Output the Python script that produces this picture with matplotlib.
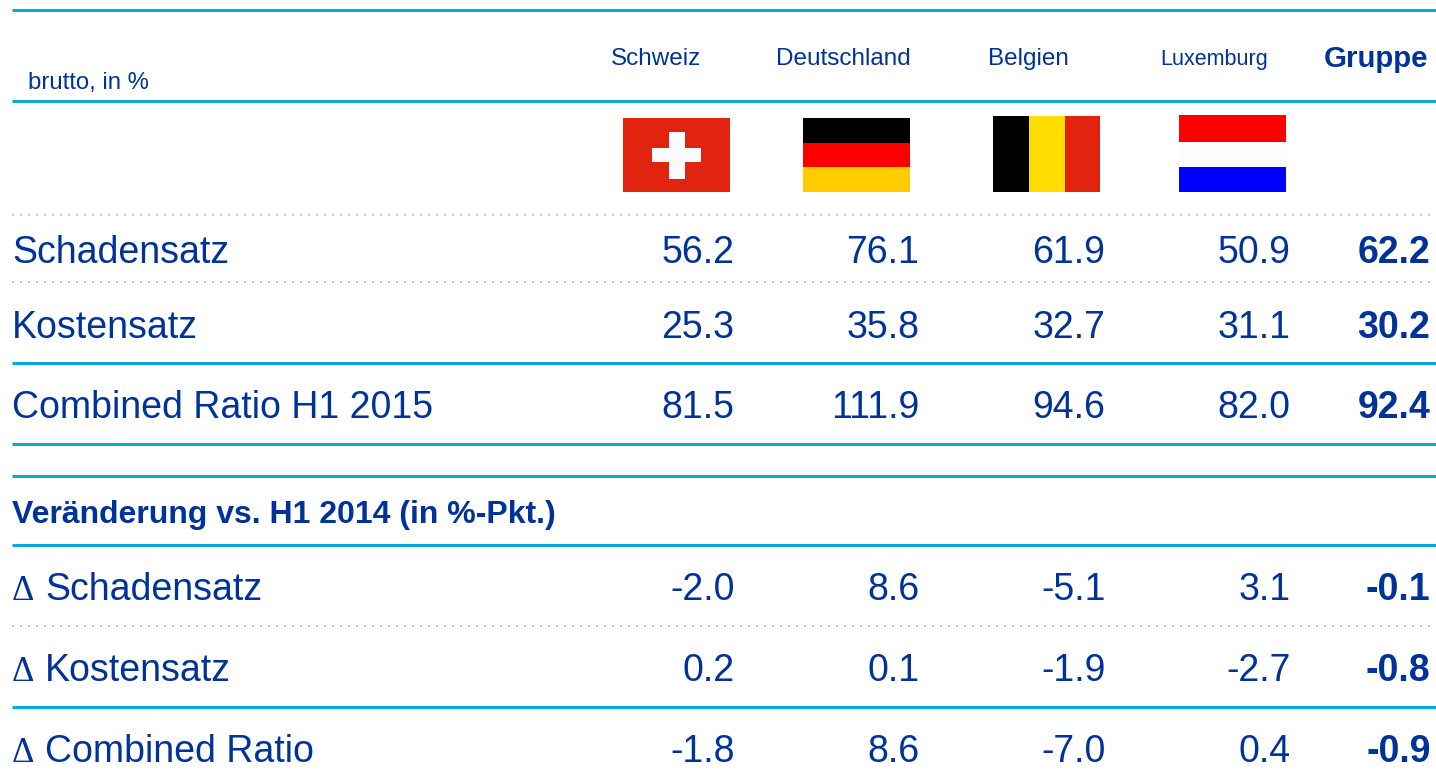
import matplotlib
matplotlib.use("Agg")
from matplotlib import pyplot as plt
from matplotlib.patches import Rectangle

plt.rcParams['font.family'] = ['Liberation Sans', 'DejaVu Sans']

countries = ["Schweiz", "Deutschland", "Belgien", "Luxemburg", "Gruppe"]
unit_label = "brutto, in %"
section_label = "Veränderung vs. H1 2014 (in %-Pkt.)"

row_labels = ["Schadensatz", "Kostensatz", "Combined Ratio H1 2015"]
schadensatz = [56.2, 76.1, 61.9, 50.9, 62.2]
kostensatz = [25.3, 35.8, 32.7, 31.1, 30.2]
combined = [81.5, 111.9, 94.6, 82.0, 92.4]

delta_labels = ["Schadensatz", "Kostensatz", "Combined Ratio"]
d_schadensatz = [-2.0, 8.6, -5.1, 3.1, -0.1]
d_kostensatz = [0.2, 0.1, -1.9, -2.7, -0.8]
d_combined = [-1.8, 8.6, -7.0, 0.4, -0.9]

BLUE = "#003399"
CYAN = "#00a8d6"
GREY = "#c4c4c4"

fig = plt.figure(figsize=(14.36, 7.84), dpi=100)
ax = fig.add_axes([0, 0, 1, 1])
ax.set_xlim(0, 1436)
ax.set_ylim(784, 0)
ax.axis("off")

# rules
for y in [10, 101, 363, 444, 476, 545, 707]:
    ax.plot([12, 1436], [y, y], color=CYAN, lw=2.1, solid_capstyle="butt")
for y in [215, 282, 626]:
    ax.plot([12, 1436], [y, y], color=GREY, lw=1.44, linestyle=(0, (1, 3)))

# header
header_x = [656.5, 843, 1028, 1214, 1376]
header_y = [65, 65, 65, 65, 67]
header_size = [17.5, 17.5, 17.5, 15.5, 21.2]
for i in range(5):
    ax.text(header_x[i], header_y[i], countries[i], color=BLUE, ha="center", va="baseline",
            fontsize=header_size[i], fontweight="bold" if i == 4 else "normal")
ax.text(28, 89, unit_label, color=BLUE, fontsize=17.2, va="baseline")

# flags
def box(x0, y0, x1, y1, color):
    ax.add_patch(Rectangle((x0, y0), x1 - x0, y1 - y0, facecolor=color, edgecolor="none"))

box(623, 118, 730, 192, "#e1230f")
box(652, 148, 701, 162, "#fbfbfb")
box(669, 132, 685, 179, "#fbfbfb")

box(803, 118, 910, 143, "#000000")
box(803, 143, 910, 167, "#fb0000")
box(803, 167, 910, 192, "#ffcc00")

box(993, 116, 1029, 192, "#000000")
box(1029, 116, 1065, 192, "#ffdd00")
box(1065, 116, 1100, 192, "#e1230f")

box(1179, 115, 1286, 142, "#ff0000")
box(1179, 142, 1286, 167, "#fcfcfc")
box(1179, 167, 1286, 192, "#0000ff")

# table values
col_right = [734.5, 919.5, 1105.5, 1290.5, 1430.5]

def value_row(y, values):
    for i in range(5):
        ax.text(col_right[i], y, f"{values[i]:.1f}", color=BLUE, ha="right", va="baseline",
                fontsize=27, fontweight="bold" if i == 4 else "normal")

top_rows = [schadensatz, kostensatz, combined]
top_y = [263, 338, 418]
for k in range(3):
    ax.text(12, top_y[k], row_labels[k], color=BLUE, fontsize=27, va="baseline")
    value_row(top_y[k], top_rows[k])

ax.text(12, 523, section_label, color=BLUE, fontsize=23, fontweight="bold", va="baseline")

delta_rows = [d_schadensatz, d_kostensatz, d_combined]
delta_y = [600, 681, 762]
for k in range(3):
    ax.text(12, delta_y[k], "Δ", color=BLUE, fontsize=25, va="baseline", family="Liberation Serif")
    ax.text(45, delta_y[k], delta_labels[k], color=BLUE, fontsize=27, va="baseline")
    value_row(delta_y[k], delta_rows[k])

fig.savefig("out.png", dpi=100)
